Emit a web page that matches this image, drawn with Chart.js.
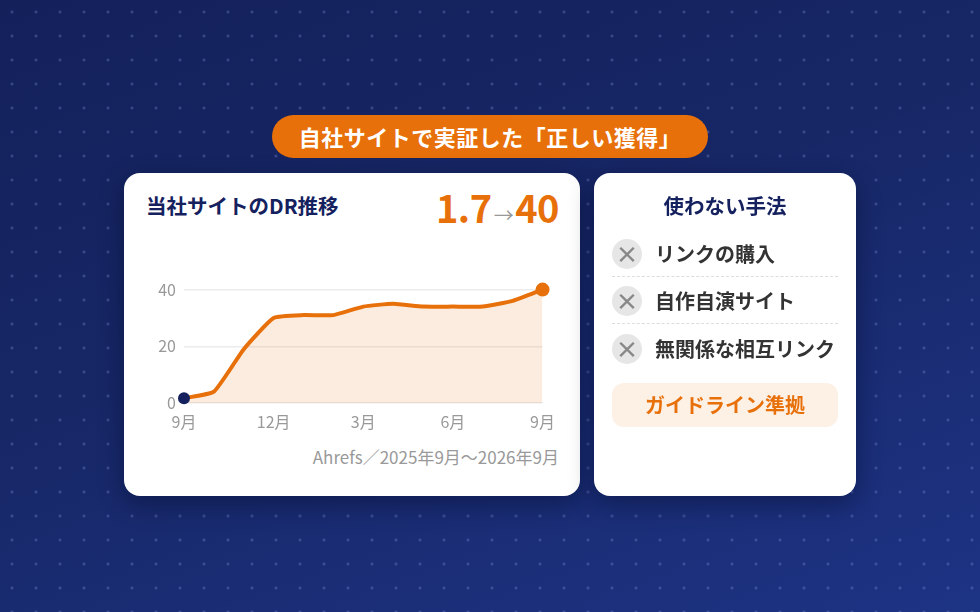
<!DOCTYPE html>
<html lang="ja">
<head>
<meta charset="utf-8">
<script src="https://cdn.jsdelivr.net/npm/chart.js@4"></script>
<style>
  html, body { margin: 0; padding: 0; }
  body {
    width: 980px; height: 612px; overflow: hidden; position: relative;
    font-family: "Noto Sans CJK JP", "Noto Sans", sans-serif;
    background: linear-gradient(160deg, #13205a 0%, #172766 45%, #1d3384 100%);
  }
  .dots {
    position: absolute; inset: 0;
    background-image: radial-gradient(circle, rgba(140,160,230,0.28) 1.3px, transparent 1.8px);
    background-size: 24px 24px;
  }
  .badge {
    position: absolute; left: 272px; top: 115px; width: 436px; height: 43px;
    background: #e8700a; border-radius: 22px; color: #fff;
    font-weight: 700; font-size: 22px; line-height: 43px; text-align: center;
    letter-spacing: 0.5px;
  }
  .card {
    position: absolute; background: #fff; border-radius: 16px;
    box-shadow: 0 8px 24px rgba(5, 12, 45, 0.45);
  }
  #left { left: 124px; top: 173px; width: 456px; height: 323px; }
  #right { left: 594px; top: 173px; width: 262px; height: 323px; }
  .title { position: absolute; font-weight: 700; font-size: 20.5px; color: #14215e; line-height: 30px; }
  .big {
    position: absolute; right: 21px; top: 9px; font-weight: 700; font-size: 38px;
    color: #e8700a; line-height: 50px; letter-spacing: -0.5px;
  }
  .big .arr { font-size: 20px; color: #999; font-weight: 400; margin: 0 2px; }
  .src { position: absolute; right: 21px; top: 272px; font-size: 17px; color: #999; line-height: 24px; }
  .chartbox { position: absolute; left: 16px; top: 99px; width: 424px; height: 169px; }
  .item {
    position: absolute; left: 18px; width: 226px; height: 47px;
    font-weight: 700; font-size: 20px; color: #333; line-height: 47px;
  }
  .item .ic {
    position: absolute; left: 0; top: 9px; width: 30px; height: 30px; border-radius: 50%;
    background: #e6e6e6; color: #888; font-weight: 700; font-size: 23px; line-height: 29px; text-align: center;
  }
  .item .tx { position: absolute; left: 43px; top: 0; }
  .sep { position: absolute; left: 18px; width: 226px; border-top: 1.5px dashed #ddd; }
  .btn {
    position: absolute; left: 18px; top: 210px; width: 226px; height: 44px; border-radius: 12px;
    background: #fdf0e5; color: #e8700a; font-weight: 700; font-size: 20px; line-height: 44px; text-align: center;
  }
</style>
</head>
<body>
<div class="dots"></div>
<div class="badge">自社サイトで実証した「正しい獲得」</div>

<div class="card" id="left">
  <div class="title" style="left:22px; top:17px;">当社サイトのDR推移</div>
  <div class="big">1.7<span class="arr">→</span>40</div>
  <div class="chartbox"><canvas id="drChart"></canvas></div>
  <div class="src">Ahrefs／2025年9月〜2026年9月</div>
</div>

<div class="card" id="right">
  <div class="title" style="left:0; width:262px; text-align:center; top:17px;">使わない手法</div>
  <div class="item" style="top:57px;"><span class="ic">×</span><span class="tx">リンクの購入</span></div>
  <div class="sep" style="top:103px;"></div>
  <div class="item" style="top:104px;"><span class="ic">×</span><span class="tx">自作自演サイト</span></div>
  <div class="sep" style="top:150px;"></div>
  <div class="item" style="top:152px;"><span class="ic">×</span><span class="tx">無関係な相互リンク</span></div>
  <div class="btn">ガイドライン準拠</div>
</div>

<script>
// 2025年9月〜2026年9月（月次）
const months = ["9月", "10月", "11月", "12月", "1月", "2月", "3月", "4月", "5月", "6月", "7月", "8月", "9月"];
const drValues = [1.7, 4, 19, 30, 31, 31, 34, 35, 34, 34, 34, 36, 40];
const yTicks = [0, 20, 40];

const orange = "#e8700a";
const navy = "#14215e";
const last = drValues.length - 1;

new Chart(document.getElementById("drChart"), {
  type: "line",
  data: {
    labels: months,
    datasets: [{
      data: drValues,
      borderColor: orange,
      borderWidth: 4,
      backgroundColor: "rgba(232,112,10,0.13)",
      fill: "origin",
      tension: 0.15,
      clip: false,
      pointRadius: ctx => (ctx.dataIndex === 0 ? 6 : ctx.dataIndex === last ? 7 : 0),
      pointBackgroundColor: ctx => (ctx.dataIndex === 0 ? navy : orange),
      pointBorderWidth: 0
    }]
  },
  options: {
    responsive: true,
    maintainAspectRatio: false,
    animation: false,
    layout: { autoPadding: false, padding: { top: 9, right: 13, left: 0, bottom: 0 } },
    plugins: { legend: { display: false }, tooltip: { enabled: false } },
    scales: {
      x: {
        grid: { display: false, drawTicks: false },
        border: { display: false },
        ticks: {
          autoSkip: false, maxRotation: 0, padding: 9,
          color: "#999", font: { size: 16, family: "Noto Sans CJK JP" },
          callback: (v, i) => (i % 3 === 0 ? months[i] : "")
        },
        afterFit: s => { s.height = 38; }
      },
      y: {
        min: 0, max: 40,
        afterBuildTicks: s => { s.ticks = yTicks.map(v => ({ value: v })); },
        grid: { color: "#ececec", lineWidth: 1.5, drawTicks: false },
        border: { display: false },
        ticks: { padding: 8, color: "#999", font: { size: 16, family: "Noto Sans CJK JP" } },
        afterFit: s => { s.width = 44; }
      }
    }
  }
});
</script>
</body>
</html>
